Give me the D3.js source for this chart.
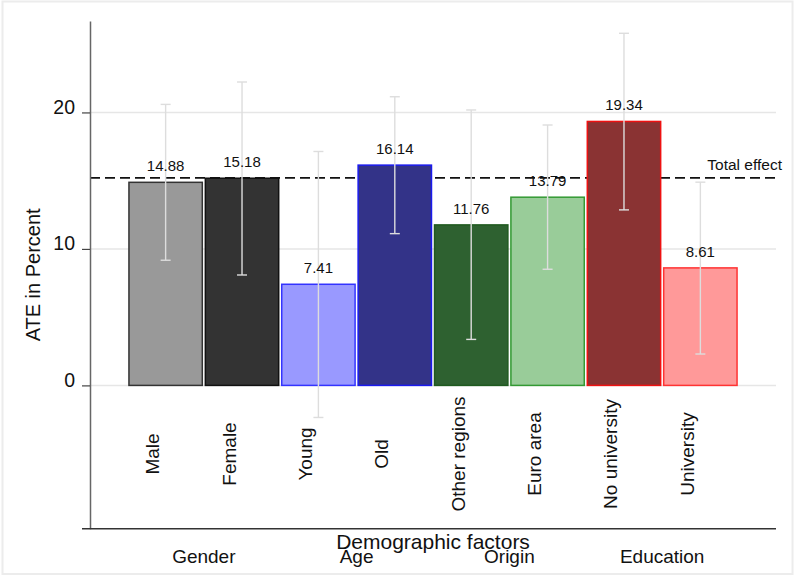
<!DOCTYPE html>
<html>
<head>
<meta charset="utf-8">
<script src="https://cdn.jsdelivr.net/npm/d3@7"></script>
<style>
  body { margin: 0; background: #fff; }
  svg text { font-family: "Liberation Sans", Arial, sans-serif; fill: #111; }
</style>
</head>
<body>
<div id="chart"></div>
<script>
// Chart values
const categories = ["Male", "Female", "Young", "Old", "Other regions", "Euro area", "No university", "University"];
const ate = [14.88, 15.18, 7.41, 16.14, 11.76, 13.79, 19.34, 8.61];
const ciLow = [9.17, 8.09, -2.35, 11.12, 3.37, 8.51, 12.86, 2.30];
const ciHigh = [20.59, 22.23, 17.14, 21.15, 20.18, 19.08, 25.80, 14.89];
const groups = ["Gender", "Age", "Origin", "Education"];
const groupOf = [0, 0, 1, 1, 2, 2, 3, 3];
const totalEffect = 15.2;
const yTicks = [0, 10, 20];

// Bar colours (fill / outline)
const fills = ["#999999", "#333333", "#9999ff", "#333388", "#2e6130", "#99cc99", "#8a3333", "#ff9999"];
const strokes = ["#333333", "#111111", "#3333ff", "#1a1aee", "#1f5a1f", "#339933", "#ee1111", "#ff3333"];

const width = 795;
const height = 576;
const margin = { top: 21, right: 19, bottom: 47.3, left: 90 };

const svg = d3.select("#chart")
    .append("svg")
    .attr("width", width)
    .attr("height", height);

// Light frame around the graph
svg.append("rect")
    .attr("x", 2.5).attr("y", 1.5)
    .attr("width", width - 5).attr("height", height - 3.5)
    .attr("fill", "none")
    .attr("stroke", "#ececec")
    .attr("stroke-width", 2);

const data = categories.map((c, i) => ({
    name: c, value: ate[i], lo: ciLow[i], hi: ciHigh[i], group: groupOf[i], idx: i
}));

const x = d3.scaleBand()
    .domain(categories)
    .range([margin.left, width - margin.right])
    .paddingInner(0.02)
    .paddingOuter(0.5);

const y = d3.scaleLinear()
    .domain([-10.5, 26.7])
    .range([height - margin.bottom, margin.top]);

// Gridlines
svg.append("g")
    .selectAll("line")
    .data(yTicks)
    .enter().append("line")
    .attr("x1", margin.left)
    .attr("x2", width - margin.right)
    .attr("y1", d => y(d))
    .attr("y2", d => y(d))
    .attr("stroke", "#e6e6e6")
    .attr("stroke-width", 1.5);

// Total effect reference line (sits behind the bars)
svg.append("line")
    .attr("x1", margin.left)
    .attr("x2", width - margin.right)
    .attr("y1", y(totalEffect))
    .attr("y2", y(totalEffect))
    .attr("stroke", "#111")
    .attr("stroke-width", 1.8)
    .attr("stroke-dasharray", "10,5");

// Bars
svg.append("g")
    .selectAll("rect")
    .data(data)
    .enter().append("rect")
    .attr("x", d => x(d.name) + 0.75)
    .attr("width", x.bandwidth() - 1.5)
    .attr("y", d => y(d.value))
    .attr("height", d => y(0) - y(d.value))
    .attr("fill", d => fills[d.idx])
    .attr("stroke", d => strokes[d.idx])
    .attr("stroke-width", 1.5);

// Confidence intervals
const capHalf = 5;
const err = svg.append("g")
    .attr("stroke", "#dddddd")
    .attr("stroke-width", 1.4);

err.selectAll("line.stem")
    .data(data)
    .enter().append("line")
    .attr("class", "stem")
    .attr("x1", d => x(d.name) + x.bandwidth() / 2)
    .attr("x2", d => x(d.name) + x.bandwidth() / 2)
    .attr("y1", d => y(d.lo))
    .attr("y2", d => y(d.hi));

["lo", "hi"].forEach(k => {
    err.selectAll("line.cap-" + k)
        .data(data)
        .enter().append("line")
        .attr("class", "cap-" + k)
        .attr("x1", d => x(d.name) + x.bandwidth() / 2 - capHalf)
        .attr("x2", d => x(d.name) + x.bandwidth() / 2 + capHalf)
        .attr("y1", d => y(d[k]))
        .attr("y2", d => y(d[k]));
});

// Value labels above the bars
svg.append("g")
    .selectAll("text")
    .data(data)
    .enter().append("text")
    .attr("x", d => x(d.name) + x.bandwidth() / 2)
    .attr("y", d => y(d.value) - 11)
    .attr("text-anchor", "middle")
    .style("font-size", "15px")
    .text(d => d.value.toFixed(2));

svg.append("text")
    .attr("x", width - 13)
    .attr("y", y(totalEffect) - 8)
    .attr("text-anchor", "end")
    .style("font-size", "15.5px")
    .text("Total effect");

// Y axis
const yAxis = svg.append("g")
    .attr("transform", `translate(${margin.left},0)`)
    .call(d3.axisLeft(y).tickValues(yTicks).tickSize(8).tickSizeOuter(0).tickPadding(7));
yAxis.select(".domain").attr("stroke", "#666").attr("stroke-width", 1.5);
yAxis.selectAll(".tick line").attr("stroke", "#444").attr("stroke-width", 1.2);
yAxis.selectAll(".tick text")
    .attr("dy", "0.05em")
    .style("font-size", "19.5px")
    .style("font-family", "'Liberation Sans', Arial, sans-serif")
    .attr("fill", "#111");

svg.append("text")
    .attr("transform", `translate(40,${(margin.top + height - margin.bottom) / 2}) rotate(-90)`)
    .attr("text-anchor", "middle")
    .style("font-size", "20px")
    .text("ATE in Percent");

// X axis line
svg.append("line")
    .attr("x1", margin.left - 8)
    .attr("x2", width - margin.right)
    .attr("y1", height - margin.bottom)
    .attr("y2", height - margin.bottom)
    .attr("stroke", "#333")
    .attr("stroke-width", 1.5);

// Rotated category labels
svg.append("g")
    .selectAll("text")
    .data(data)
    .enter().append("text")
    .attr("transform", d => `translate(${x(d.name) + x.bandwidth() / 2 - 6.5},454) rotate(-90)`)
    .attr("text-anchor", "middle")
    .style("font-size", "19px")
    .text(d => d.name);

// Axis title and group labels
svg.append("text")
    .attr("x", (margin.left + width - margin.right) / 2)
    .attr("y", 549)
    .attr("text-anchor", "middle")
    .style("font-size", "21px")
    .text("Demographic factors");

svg.append("g")
    .selectAll("text")
    .data(groups)
    .enter().append("text")
    .attr("x", (g, gi) => {
        const members = data.filter(d => d.group === gi);
        const first = x(members[0].name);
        const last = x(members[members.length - 1].name) + x.bandwidth();
        return (first + last) / 2;
    })
    .attr("y", 563)
    .attr("text-anchor", "middle")
    .style("font-size", "19px")
    .text(g => g);
</script>
</body>
</html>
